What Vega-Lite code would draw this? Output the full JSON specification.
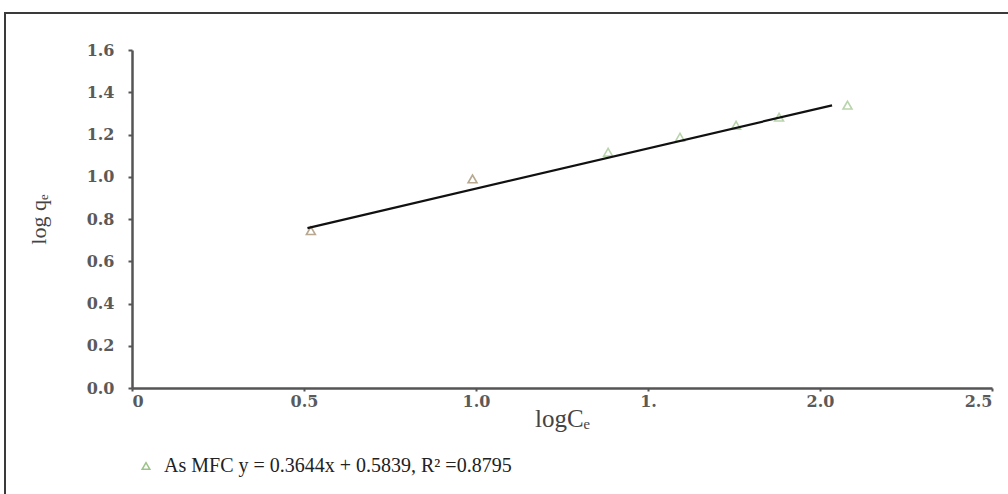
{
  "$schema": "https://vega.github.io/schema/vega-lite/v6.json",
  "width": 1010,
  "height": 490,
  "autosize": {"type": "none"},
  "padding": {"left": 5, "top": 13, "right": 0, "bottom": 0},
  "background": "white",
  "config": {
    "view": {"stroke": "#3a3a3a", "strokeWidth": 2},
    "font": "Liberation Serif"
  },
  "datasets": {
    "pts": [
      {"logCe": 0.52, "logqe": 0.745, "grp": "early"},
      {"logCe": 0.99, "logqe": 0.99, "grp": "early"},
      {"logCe": 1.384, "logqe": 1.116, "grp": "late"},
      {"logCe": 1.593, "logqe": 1.187, "grp": "late"},
      {"logCe": 1.756, "logqe": 1.244, "grp": "late"},
      {"logCe": 1.881, "logqe": 1.282, "grp": "late"},
      {"logCe": 2.08, "logqe": 1.339, "grp": "late"}
    ],
    "fit": [
      {"logCe": 0.51, "logqe": 0.757},
      {"logCe": 2.035, "logqe": 1.338}
    ]
  },
  "layer": [
    {
      "data": {"name": "pts"},
      "mark": {"type": "point", "shape": "triangle-up", "size": 80, "filled": false, "strokeWidth": 1.6},
      "encoding": {
        "x": {
          "field": "logCe", "type": "quantitative",
          "scale": {"domain": [0, 2.5], "range": [127, 987], "nice": false, "zero": false},
          "axis": {
            "values": [0, 0.5, 1, 1.5, 2, 2.5],
            "labelExpr": "datum.value == 0 ? '0' : (datum.value == 1.5 ? '1.' : format(datum.value, '.1f'))",
            "offset": -115,
            "grid": false,
            "domainColor": "#555", "domainWidth": 2.5,
            "tickColor": "#555", "tickSize": 3, "tickWidth": 2,
            "labelFont": "DejaVu Serif", "labelFontSize": 16, "labelFontWeight": "bold", "labelColor": "#5a5a5a",
            "labelPadding": 2,
            "title": "logCₑ",
            "titleFont": "Liberation Serif", "titleFontSize": 25, "titleFontWeight": "normal", "titleColor": "#444",
            "titlePadding": -3
          }
        },
        "y": {
          "field": "logqe", "type": "quantitative",
          "scale": {"domain": [0, 1.6], "range": [375, 37], "nice": false, "zero": false},
          "axis": {
            "values": [0, 0.2, 0.4, 0.6, 0.8, 1.0, 1.2, 1.4, 1.6],
            "format": ".1f",
            "offset": -127,
            "grid": false,
            "domainColor": "#555", "domainWidth": 2.5,
            "tickColor": "#555", "tickSize": 4, "tickWidth": 2,
            "labelFont": "DejaVu Serif", "labelFontSize": 16, "labelFontWeight": "bold", "labelColor": "#5a5a5a",
            "labelPadding": 14,
            "title": "log qₑ",
            "titleFont": "Liberation Serif", "titleFontSize": 22, "titleFontWeight": "normal", "titleColor": "#444",
            "titlePadding": 36
          }
        },
        "stroke": {
          "field": "grp", "type": "nominal",
          "scale": {"domain": ["early", "late"], "range": ["#9a8460", "#9cc389"]},
          "legend": null
        }
      }
    },
    {
      "data": {"name": "fit"},
      "mark": {"type": "line", "color": "#111", "strokeWidth": 2.2},
      "encoding": {
        "x": {"field": "logCe", "type": "quantitative"},
        "y": {"field": "logqe", "type": "quantitative"}
      }
    },
    {
      "data": {"name": "pts"},
      "mark": {"type": "point", "opacity": 0, "filled": false},
      "encoding": {
        "x": {"field": "logCe", "type": "quantitative"},
        "y": {"field": "logqe", "type": "quantitative"},
        "shape": {
          "datum": "As MFC  y = 0.3644x + 0.5839, R² =0.8795",
          "type": "nominal",
          "scale": {"range": ["triangle-up"]},
          "legend": {
            "orient": "none",
            "legendX": 131,
            "legendY": 443,
            "title": null,
            "symbolSize": 60,
            "symbolStrokeColor": "#9cc389",
            "symbolStrokeWidth": 1.5,
            "symbolFillColor": "transparent",
            "symbolOpacity": 1,
            "labelFont": "Liberation Serif",
            "labelFontSize": 20,
            "labelColor": "#222",
            "labelLimit": 700,
            "labelOffset": 8
          }
        }
      }
    }
  ]
}
